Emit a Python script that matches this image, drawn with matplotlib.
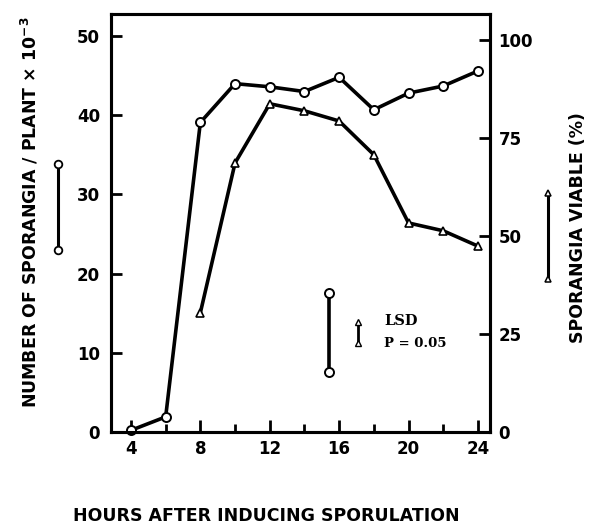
import matplotlib
matplotlib.use("Agg")
import matplotlib.pyplot as plt
from matplotlib.lines import Line2D

# hours after inducing sporulation
hours = [4, 6, 8, 10, 12, 14, 16, 18, 20, 22, 24]
# sporangia per plant x 10^-3 (circles, left axis)
sporangia = [0.2, 1.9, 39.1, 44.0, 43.6, 43.0, 44.8, 40.7, 42.8, 43.7, 45.6]

# viable sporangia % (triangles, right axis)
hours_v = [8, 10, 12, 14, 16, 18, 20, 22, 24]
viable = [30.4, 68.6, 83.7, 81.9, 79.3, 70.7, 53.3, 51.3, 47.4]

# LSD bars (P = 0.05)
lsd_circ = [7.6, 17.6]
lsd_tri = [22.7, 28.1]

plt.rcParams['font.family'] = ['DejaVu Sans']
plt.rcParams['font.weight'] = 'bold'

fig = plt.figure(figsize=(5.89, 5.28), dpi=100)
ax = fig.add_axes([0.1885, 0.182, 0.6435, 0.7915])
ax2 = ax.twinx()

lw = 2.6
ax.plot(hours, sporangia, color='black', lw=lw, marker='o', ms=6.5,
        mfc='white', mec='black', mew=1.4, clip_on=False, zorder=3)
ax2.plot(hours_v, viable, color='black', lw=lw, marker='^', ms=6,
         mfc='white', mec='black', mew=1.2, clip_on=False, zorder=3)

# LSD bars inside plot
ax.plot([15.4, 15.4], lsd_circ, color='black', lw=lw, marker='o', ms=6.5,
        mfc='white', mec='black', mew=1.4)
ax2.plot([17.1, 17.1], lsd_tri, color='black', lw=2.0, marker='^', ms=5,
         mfc='white', mec='black', mew=1.0)
ax.text(18.6, 14.0, 'LSD', family='DejaVu Serif', fontsize=10.5, fontweight='bold', va='center')
ax.text(18.6, 11.2, 'P = 0.05', family='DejaVu Serif', fontsize=9.5, fontweight='bold', va='center')

ax.set_xlim(2.85, 24.7)
ax.set_ylim(0, 52.8)
ax2.set_ylim(0, 106.6)

ax.set_xticks([4, 8, 12, 16, 20, 24])
ax.set_xticks([6, 10, 14, 18, 22], minor=True)
ax.set_yticks([0, 10, 20, 30, 40, 50])
ax2.set_yticks([0, 25, 50, 75, 100])

ax.tick_params(axis='x', which='major', direction='in', length=9, width=2,
               labelsize=12, pad=6)
ax.tick_params(axis='x', which='minor', direction='in', length=6, width=2)
ax.tick_params(axis='y', direction='in', length=8, width=2, labelsize=12, pad=8)
ax2.tick_params(axis='y', direction='in', length=8, width=2, labelsize=12, pad=6)
for a in (ax, ax2):
    for s in a.spines.values():
        s.set_linewidth(2.2)

# axis titles
fig.text(30 / 589, 1 - 212 / 528, 'NUMBER OF SPORANGIA / PLANT $\\times$ 10$^{-3}$',
         rotation=90, ha='center', va='center', fontsize=12.5, fontweight='bold')
fig.text(578 / 589, 1 - 228 / 528, 'SPORANGIA VIABLE (%)', rotation=90,
         ha='center', va='center', fontsize=12.5, fontweight='bold')
fig.text(266 / 589, 1 - 516 / 528, 'HOURS AFTER INDUCING SPORULATION', ha='center',
         va='center', fontsize=12.5, fontweight='bold')

# series keys outside the axes
fig.add_artist(Line2D([58 / 589, 58 / 589], [1 - 250 / 528, 1 - 164 / 528],
                      color='black', lw=2.2, marker='o', ms=5.5, mfc='white',
                      mec='black', mew=1.3))
fig.add_artist(Line2D([548 / 589, 548 / 589], [1 - 279 / 528, 1 - 193 / 528],
                      color='black', lw=2.2, marker='^', ms=5, mfc='white',
                      mec='black', mew=1.1))

fig.savefig('out.png', dpi=100)
